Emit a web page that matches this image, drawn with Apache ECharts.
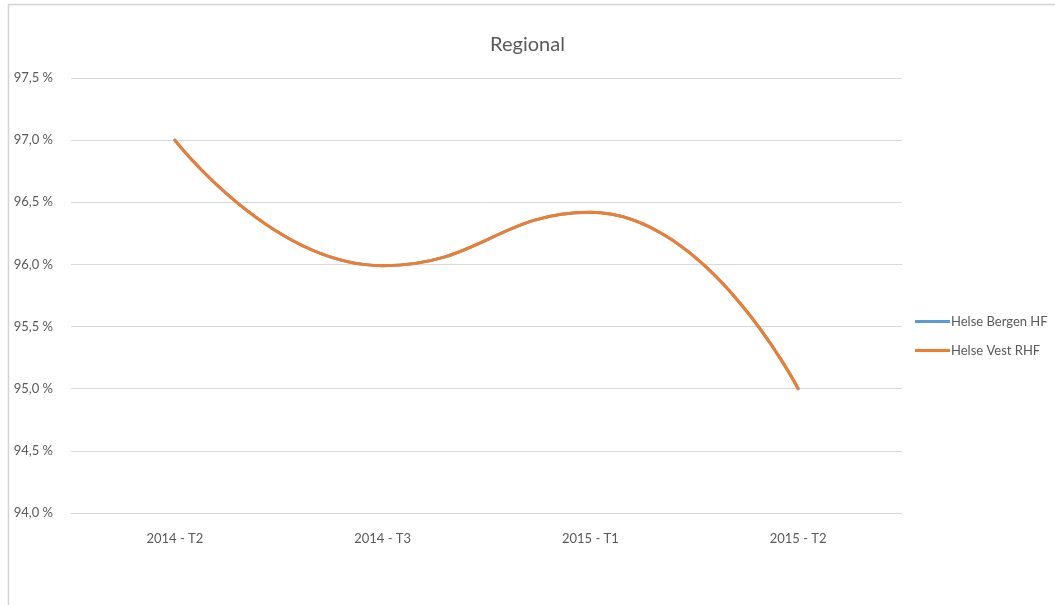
<!DOCTYPE html>
<html>
<head>
<meta charset="utf-8">
<script src="https://cdn.jsdelivr.net/npm/echarts@6/dist/echarts.min.js"></script>
<style>
  html, body { margin: 0; padding: 0; background: #ffffff; }
  #chart { width: 1055px; height: 605px; }
</style>
</head>
<body>
<div id="chart"></div>
<script>
// Periods (tertials) on the category axis
const periods = ['2014 - T2', '2014 - T3', '2015 - T1', '2015 - T2'];
// Share in percent per period
const helseBergen = [97.0, 95.99, 96.42, 95.0];
const helseVest = [97.0, 95.99, 96.42, 95.0];
// Y axis range and step (percent)
const yMin = 94.0;
const yMax = 97.5;
const yStep = 0.5;

const textColor = '#595959';
const fontFamily = 'Lato, "Open Sans", sans-serif';

const chart = echarts.init(document.getElementById('chart'), null, { renderer: 'canvas' });

chart.setOption({
  backgroundColor: '#ffffff',
  animation: false,
  textStyle: { fontFamily: fontFamily },
  graphic: [{
    type: 'rect',
    silent: true,
    shape: { x: 8.5, y: 4.5, width: 1200, height: 800 },
    style: { fill: 'none', stroke: '#d4d4d4', lineWidth: 1.5 }
  }],
  title: {
    text: 'Regional',
    left: 'center',
    top: 30,
    textStyle: { color: textColor, fontSize: 20, fontWeight: 'normal', fontFamily: fontFamily }
  },
  legend: {
    orient: 'vertical',
    left: 910,
    top: 310,
    itemWidth: 35,
    itemHeight: 3,
    itemGap: 16,
    icon: 'rect',
    textStyle: { color: textColor, fontSize: 13, fontFamily: fontFamily, padding: [0, 0, 0, -4] },
    data: ['Helse Bergen HF', 'Helse Vest RHF']
  },
  grid: { left: 71, top: 78, width: 831, height: 435, containLabel: false },
  xAxis: {
    type: 'category',
    data: periods,
    boundaryGap: true,
    axisLine: { show: true, lineStyle: { color: '#d9d9d9' } },
    axisTick: { show: false },
    axisLabel: { color: textColor, fontSize: 13, margin: 19, fontFamily: fontFamily }
  },
  yAxis: {
    type: 'value',
    min: yMin,
    max: yMax,
    interval: yStep,
    axisLine: { show: false },
    axisTick: { show: false },
    splitLine: { lineStyle: { color: '#d9d9d9', width: 1 } },
    axisLabel: {
      color: textColor,
      fontSize: 13,
      margin: 18,
      fontFamily: fontFamily,
      formatter: v => v.toFixed(1).replace('.', ',') + ' %'
    }
  },
  series: [
    {
      name: 'Helse Bergen HF',
      type: 'line',
      data: helseBergen,
      smooth: 0.5,
      symbol: 'none',
      color: '#5b9bd5',
      lineStyle: { width: 3, color: '#5b9bd5', cap: 'round' }
    },
    {
      name: 'Helse Vest RHF',
      type: 'line',
      data: helseVest,
      smooth: 0.5,
      symbol: 'none',
      color: '#ed7d31',
      lineStyle: { width: 3, color: '#ed7d31', cap: 'round' }
    }
  ]
});
</script>
</body>
</html>
